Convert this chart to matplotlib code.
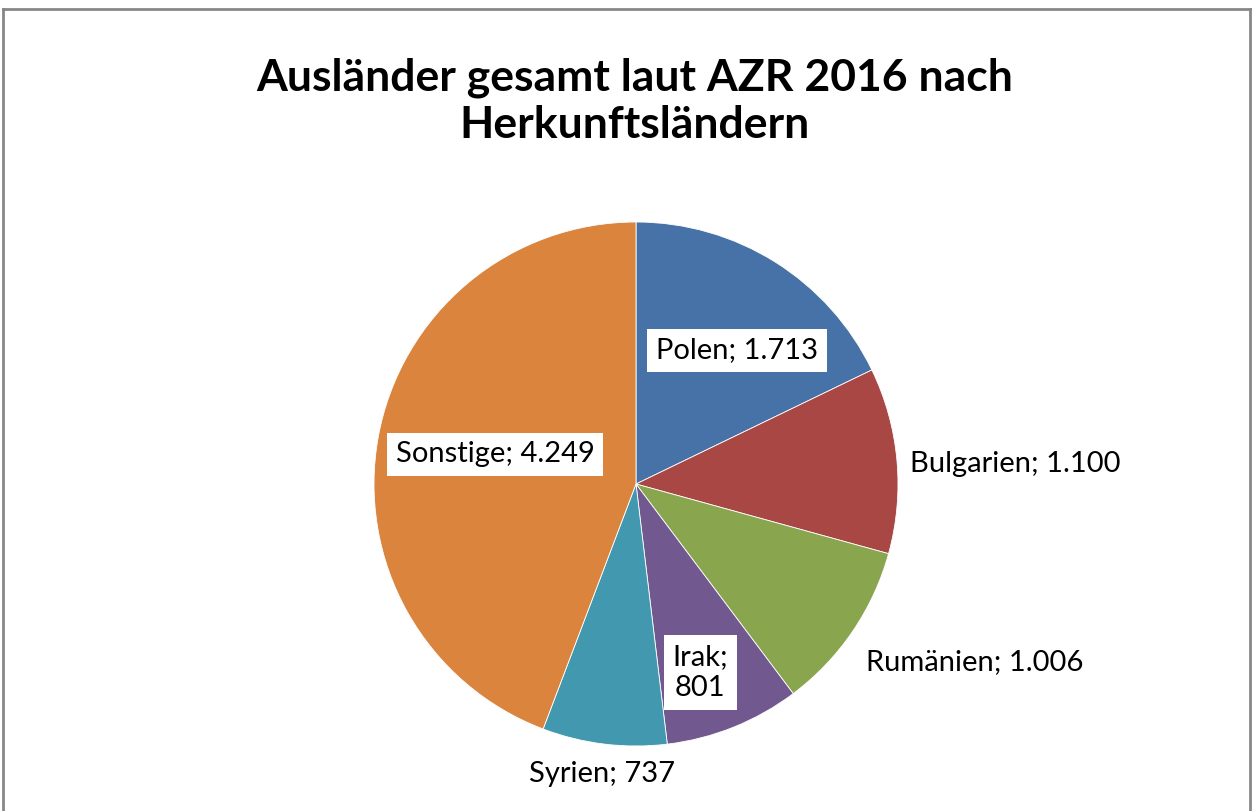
import matplotlib
matplotlib.use("Agg")
import matplotlib.pyplot as plt
import numpy as np
from matplotlib.lines import Line2D

plt.rcParams['font.family'] = ['Lato', 'DejaVu Sans']

# data (from chart)
countries = ["Polen", "Bulgarien", "Rumänien", "Irak", "Syrien", "Sonstige"]
values = [1713, 1100, 1006, 801, 737, 4249]
value_text = ["1.713", "1.100", "1.006", "801", "737", "4.249"]
colors = ["#4672A8", "#A84744", "#89A54E", "#71588F", "#4198AF", "#DB843D"]

# label placement: (radius factor, angle offset, ha, va, boxed, two lines)
label_style = [
    (0.64, -5, "center", "center", True, False),
    (1.05, -1, "left", "center", False, False),
    (1.11, -3.5, "left", "center", False, False),
    (0.76, -3, "center", "center", True, True),
    (1.065, 0, "center", "top", False, False),
    (0.55, -1.5, "center", "center", True, False),
]

W, H = 1252, 811
fig = plt.figure(figsize=(W / 100, H / 100), dpi=100)

cx, cy, R = 636, 484, 262
ax = fig.add_axes([(cx - R) / W, (H - cy - R) / H, 2 * R / W, 2 * R / H])
wedges, _ = ax.pie(values, colors=colors, startangle=90, counterclock=False,
                   radius=1, wedgeprops=dict(edgecolor="white", linewidth=0.6))
ax.set_xlim(-1, 1)
ax.set_ylim(-1, 1)
ax.set_aspect("equal")
ax.axis("off")

for w, name, vt, st in zip(wedges, countries, value_text, label_style):
    rf, off, ha, va, boxed, two = st
    ang = np.deg2rad((w.theta1 + w.theta2) / 2 + off)
    x, y = rf * np.cos(ang), rf * np.sin(ang)
    txt = f"{name};\n{vt}" if two else f"{name}; {vt}"
    bbox = dict(boxstyle="square,pad=0.3", fc="white", ec="none") if boxed else None
    ax.text(x, y, txt, ha=ha, va=va, fontsize=21, bbox=bbox, linespacing=1.25,
            clip_on=False, zorder=5)

fig.text(0.507, 0.875, "Ausländer gesamt laut AZR 2016 nach\nHerkunftsländern",
         ha="center", va="center", fontsize=32, fontweight="bold", linespacing=1.2)

# chart frame (bottom edge is cut off in the original)
frame = dict(color="#878787", linewidth=2, transform=fig.transFigure)
fig.add_artist(Line2D([3 / W, 1250 / W], [1 - 9 / H, 1 - 9 / H], **frame))
fig.add_artist(Line2D([3 / W, 3 / W], [0, 1 - 9 / H], **frame))
fig.add_artist(Line2D([1250 / W, 1250 / W], [0, 1 - 9 / H], **frame))

fig.savefig("out.png", dpi=100)
